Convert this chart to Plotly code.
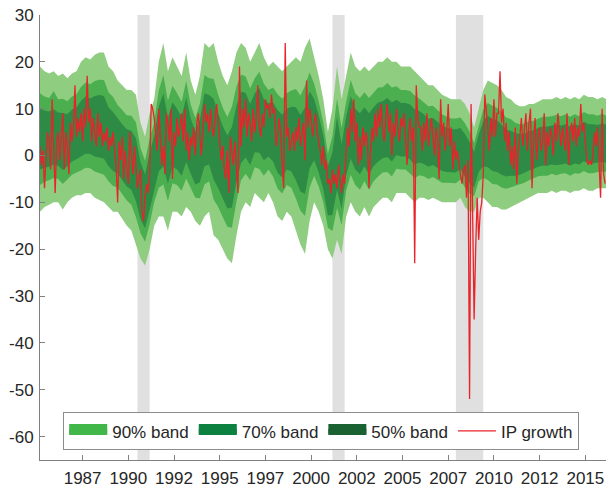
import plotly.graph_objects as go

# ---------------- data ----------------
START_YEAR, START_MONTH = 1985, 3   # first monthly observation: March 1985

# monthly IP growth (annualised %, Mar 1985 .. Feb 2016), one row per year
ip_growth = [
    2, -2, 1, -7, 0, 5, 3, -3, 12, 1,                      # 1985 (Mar-Dec)
    -8, 3, 5, -1, 4, 9, -3, 5, 2, -4, 7, 3,                # 1986
    6, 15, 4, 8, 5, 9, 3, 10, 6, 17, 7, 10,                # 1987
    3, 8, 5, 2, 9, 4, 7, 2, 5, 3, 6, 1,                    # 1988
    4, 2, 5, 1, -2, -10, 3, -1, 4, -5, 1, -3,              # 1989
    -6, 5, 1, -4, 2, -2, -7, -5, -3, -12, -14, -9,         # 1990
    -6, -8, -4, 11, 10, 8, 5, 1, 10, 3, -2, 2,             # 1991
    -4, 9, 7, 3, 10, -5, 5, 2, 8, 4, 6, 9,                 # 1992
    3, 10, 1, 5, -1, 4, 2, 6, 0, 7, 9, 4,                  # 1993
    0, 6, 11, 7, 9, 5, 10, 6, 4, 8, 11, 7,                 # 1994
    3, -1, 2, -3, -5, 1, -8, 4, 1, -2, 3, -3,              # 1995
    -8, 19, 2, 10, 6, 12, 4, 9, 7, 3, 10, 5,               # 1996
    8, 15, 6, 4, 9, 6, 12, 10, 11, 8, 13, 9,               # 1997
    10, 2, 4, 8, 5, -2, -7, 24, 4, 6, 1, 3,                # 1998
    5, 1, 6, 3, 8, 2, 5, 7, -1, 16, 6, 10,                 # 1999
    8, 4, 7, 9, 5, 3, 1, -2, 2, -3, -1, -6,                # 2000
    -5, -8, -3, -6, -4, -7, -2, -5, -8, -4, -6, 1,         # 2001
    6, 2, 10, 5, 12, 3, 7, -2, 4, -1, 6, 2,                # 2002
    5, 3, -7, 1, 6, 3, 9, 4, 10, 6, 11, 5,                 # 2003
    3, 8, 11, 5, 9, 0, 7, 4, 10, 6, 3, 8,                  # 2004
    6, 9, 4, -2, 5, 8, 3, 6, -23, 15, 8, 6,                # 2005
    6, 1, 7, 3, 9, 2, 5, 8, 4, 0, 6, 3,                    # 2006
    -5, 12, 4, 7, 1, 5, 11, 2, 6, -3, 3, -1,               # 2007
    1, -2, -4, -6, -3, -2, -9, -1, -52, 11, -15, -35,      # 2008
    -20, -9, -18, -12, -10, -4, 13, 10, 6, 1, 8, 4,        # 2009
    12, 4, 9, 9, 18, 7, 10, 3, 7, 1, 5, -2,                # 2010
    2, -3, 6, -6, 1, 4, 8, 2, 5, 9, 1, 7,                  # 2011
    10, -7, 3, 8, -1, 4, 6, 1, 3, 9, -2, 5,                # 2012
    2, 6, 4, 0, 7, 3, 9, 5, 2, 6, 4, 1,                    # 2013
    9, -2, 5, 7, 3, 8, 2, 6, 4, 11, 5, 7,                  # 2014
    3, -1, -2, -1, -2, 0, 5, 2, 6, -3, -9, 10,             # 2015
    -4, -6,                                                # 2016 (Jan-Feb)
]

# predictive bands, sampled quarterly from March 1985
band_hi90 = [19, 18, 17.5, 18, 17, 17.5, 16.5, 17.5, 18, 20,
             21, 20.5, 21.5, 22, 22, 19, 18, 16, 15, 14,
             14, 13, 7, 4, 9, 12, 20, 24, 18, 21,
             19, 17, 22, 16, 13, 17, 24, 23, 24, 20,
             17, 15, 18, 22, 24, 23, 20, 22, 24, 21,
             19, 20, 19, 18, 19, 20, 21, 20, 23, 25,
             21, 17, 12, 5, 10, 19, 12, 17, 22, 19,
             18, 19, 18, 19, 20, 20, 21, 20, 20, 19,
             19, 19, 18, 17, 16, 15, 15, 14, 13, 12.5,
             12, 12, 12, 11, 9, 6, 10, 14, 16, 15.5,
             15, 14, 12.5, 12, 11, 10.5, 10.5, 11, 11, 11.5,
             12, 12, 12, 12.5, 12, 12.5, 12, 12.5, 12, 13,
             12.5, 12.5, 12, 12.5, 12]
band_lo90 = [-12, -11, -10.5, -10, -10, -11.5, -10, -9, -8.5, -8.5,
             -8, -8, -9, -9.5, -10, -11, -12, -12, -13.5, -15,
             -16, -19, -22, -23.5, -20, -15, -13, -13, -16, -12,
             -12, -13, -11, -12, -14, -15, -13, -12, -17, -18,
             -20, -22, -23, -17, -12, -10, -11, -8, -9, -10,
             -8, -10, -13, -14, -12, -13, -16, -19, -21, -14,
             -10, -12, -15, -20, -22, -18, -21, -13, -10, -12,
             -13, -11, -13, -11, -10, -9, -9, -10, -8, -8,
             -8, -9, -10, -9, -9, -9.5, -9, -9.5, -10, -10,
             -10, -10, -9, -11, -12, -12, -9, -9, -10, -11,
             -11, -11.5, -11.5, -11, -10.5, -10, -9.5, -9, -8.5, -8,
             -8, -8, -7.5, -8, -7.5, -7.5, -8, -7.5, -7.5, -7,
             -7.5, -7.5, -7, -7, -7]
band_hi70 = [13.3, 12.6, 12.3, 13.8, 12.0, 12.1, 11.6, 12.6, 13.1, 14.7,
             15.6, 15.2, 15.9, 16.2, 16.1, 13.5, 12.5, 10.8, 9.7, 8.6,
             8.5, 7.1, 1.6, -1.1, 3.6, 7.0, 13.9, 17.2, 11.7, 14.9,
             13.3, 11.5, 15.9, 10.8, 8.0, 11.1, 17.2, 16.5, 16.4, 13.0,
             10.2, 8.2, 10.4, 14.8, 17.3, 16.9, 14.3, 16.5, 17.9, 15.3,
             14.0, 14.5, 13.1, 12.1, 13.3, 13.9, 14.2, 12.8, 14.9, 17.8,
             15.3, 11.6, 7.0, 0.4, 4.1, 12.2, 5.9, 11.5, 16.1, 13.3,
             12.3, 13.5, 12.3, 13.5, 14.5, 14.6, 15.5, 14.5, 14.8, 14.0,
             14.0, 13.8, 12.8, 12.2, 11.4, 10.5, 10.6, 9.7, 8.8, 8.3,
             7.9, 7.9, 8.1, 6.9, 5.1, 2.7, 6.5, 9.8, 11.2, 10.6,
             10.2, 9.3, 8.1, 7.8, 7.0, 6.7, 6.8, 7.3, 7.4, 7.9,
             8.3, 8.3, 8.4, 8.7, 8.4, 8.8, 8.3, 8.8, 8.4, 9.3,
             8.8, 8.8, 8.5, 8.9, 8.5]
band_lo70 = [-6.3, -5.6, -5.3, -4.8, -5.0, -6.1, -5.1, -4.1, -3.6, -3.2,
             -2.6, -2.7, -3.4, -3.7, -4.1, -5.5, -6.5, -6.8, -8.2, -9.6,
             -10.5, -13.1, -16.6, -18.4, -14.6, -10.0, -6.9, -6.2, -9.7, -5.9,
             -6.3, -7.5, -4.9, -6.8, -9.0, -9.1, -6.2, -5.5, -9.4, -11.0,
             -13.2, -15.2, -15.4, -9.8, -5.3, -3.9, -5.3, -2.5, -2.9, -4.3,
             -3.0, -4.5, -7.1, -8.1, -6.3, -6.9, -9.2, -11.8, -12.9, -6.8,
             -4.3, -6.6, -10.0, -15.4, -16.1, -11.2, -14.9, -7.5, -4.1, -6.3,
             -7.3, -5.5, -7.3, -5.5, -4.5, -3.6, -3.5, -4.5, -2.8, -3.0,
             -3.0, -3.8, -4.8, -4.2, -4.4, -5.0, -4.6, -5.2, -5.8, -5.8,
             -5.9, -5.9, -5.1, -6.9, -8.1, -8.7, -5.5, -4.8, -5.2, -6.1,
             -6.2, -6.8, -7.1, -6.8, -6.5, -6.2, -5.8, -5.3, -4.9, -4.4,
             -4.3, -4.3, -3.9, -4.2, -3.9, -3.8, -4.3, -3.8, -3.9, -3.3,
             -3.8, -3.8, -3.5, -3.4, -3.5]
band_hi50 = [10.0, 9.6, 9.4, 9.9, 9.2, 9.1, 8.8, 9.8, 10.3, 11.7,
             12.6, 12.2, 12.7, 12.9, 12.7, 10.3, 9.3, 7.9, 6.7, 5.6,
             5.3, 3.7, -1.4, -4.0, 0.6, 4.2, 10.4, 13.3, 8.1, 11.4,
             10.0, 8.3, 12.4, 7.9, 5.2, 7.7, 13.3, 12.9, 12.1, 9.0,
             6.3, 4.3, 6.1, 10.7, 13.6, 13.4, 11.0, 13.3, 14.4, 12.0,
             11.2, 11.3, 9.7, 8.7, 10.0, 10.4, 10.3, 8.7, 10.2, 13.7,
             12.0, 8.6, 4.2, -2.3, 0.7, 8.3, 2.4, 8.3, 12.7, 10.0,
             9.0, 10.3, 9.0, 10.3, 11.3, 11.6, 12.3, 11.3, 11.9, 11.2,
             11.2, 10.9, 9.9, 9.5, 8.8, 7.9, 8.0, 7.2, 6.3, 6.0,
             5.6, 5.6, 5.9, 4.6, 2.9, 0.8, 4.5, 7.3, 8.5, 7.8,
             7.5, 6.6, 5.5, 5.3, 4.8, 4.6, 4.7, 5.2, 5.4, 5.9,
             6.2, 6.2, 6.4, 6.6, 6.4, 6.7, 6.2, 6.7, 6.4, 7.2,
             6.7, 6.7, 6.5, 6.9, 6.5]
band_lo50 = [-3.0, -2.6, -2.4, -1.9, -2.2, -3.1, -2.3, -1.3, -0.8, -0.2,
             0.4, 0.3, -0.2, -0.4, -0.7, -2.3, -3.3, -3.9, -5.2, -6.6,
             -7.3, -9.7, -13.6, -15.5, -11.6, -7.2, -3.4, -2.3, -6.1, -2.4,
             -3.0, -4.3, -1.4, -3.9, -6.2, -5.7, -2.3, -1.9, -5.1, -7.0,
             -9.3, -11.3, -11.1, -5.7, -1.6, -0.4, -2.0, 0.7, 0.6, -1.0,
             -0.2, -1.3, -3.7, -4.7, -3.0, -3.4, -5.3, -7.7, -8.2, -2.7,
             -1.0, -3.6, -7.2, -12.8, -12.7, -7.3, -11.4, -4.3, -0.7, -3.0,
             -4.0, -2.3, -4.0, -2.3, -1.3, -0.6, -0.3, -1.3, 0.1, -0.2,
             -0.2, -0.9, -1.9, -1.5, -1.8, -2.4, -2.0, -2.7, -3.3, -3.5,
             -3.6, -3.6, -2.9, -4.6, -5.9, -6.8, -3.5, -2.3, -2.5, -3.3,
             -3.5, -4.1, -4.5, -4.3, -4.3, -4.1, -3.7, -3.2, -2.9, -2.4,
             -2.2, -2.2, -1.9, -2.1, -1.9, -1.7, -2.2, -1.7, -1.9, -1.2,
             -1.7, -1.7, -1.5, -1.4, -1.5]

# NBER recessions (decimal years)
recession_start = [1990.5, 2001.167, 2007.917]
recession_end = [1991.167, 2001.833, 2009.417]

x_tick_vals = [1987.5, 1990, 1992.5, 1995, 1997.5, 2000, 2002.5, 2005, 2007.5, 2010, 2012.5, 2015]
x_tick_text = ["1987", "1990", "1992", "1995", "1997", "2000", "2002", "2005", "2007", "2010", "2012", "2015"]
y_tick_vals = [-60, -50, -40, -30, -20, -10, 0, 10, 20, 30]
y_tick_text = ["-60", "-50", "-40", "-30", "-20", "-10", "0", "10", "20", "30"]

# ---------------- build ----------------
t_month = [START_YEAR + (START_MONTH - 1 + k) / 12 for k in range(len(ip_growth))]
t_band = [START_YEAR + (START_MONTH - 1) / 12 + 0.25 * k for k in range(len(band_hi90))]

bands = [
    ("90% band", band_hi90, band_lo90, "#8fcd80", "#41b649"),
    ("70% band", band_hi70, band_lo70, "#4caf4f", "#0c8140"),
    ("50% band", band_hi50, band_lo50, "#2e8b46", "#1b6232"),
]

FONT = "Liberation Sans, Arial, Helvetica, sans-serif"
fig = go.Figure()

for name, hi, lo, plot_col, _ in bands:
    fig.add_trace(go.Scatter(x=t_band, y=hi, mode="lines", line=dict(width=0),
                             showlegend=False, hoverinfo="skip"))
    fig.add_trace(go.Scatter(x=t_band, y=lo, mode="lines", line=dict(width=0),
                             fill="tonexty", fillcolor=plot_col,
                             showlegend=False, hoverinfo="skip"))

fig.add_trace(go.Scatter(x=t_month, y=ip_growth, mode="lines",
                         line=dict(color="#e8232a", width=1.3), showlegend=False))

# legend entries
for name, hi, lo, _, leg_col in bands:
    fig.add_trace(go.Scatter(x=[None], y=[None], mode="lines", name=name,
                             line=dict(color=leg_col, width=10),
                             fill="toself", fillcolor=leg_col))
fig.add_trace(go.Scatter(x=[None], y=[None], mode="lines", name="IP growth",
                         line=dict(color="#e8232a", width=1.3)))

for s, e in zip(recession_start, recession_end):
    fig.add_shape(type="rect", xref="x", yref="y", x0=s, x1=e, y0=-65, y1=30,
                  fillcolor="#e0e0e0", line=dict(width=0), layer="below")

axis_common = dict(showline=True, linecolor="#808080", linewidth=1,
                   ticks="inside", ticklen=5, tickcolor="#808080",
                   showgrid=False, zeroline=False,
                   tickfont=dict(family=FONT, size=17, color="#262626"))

fig.update_layout(
    width=606, height=493,
    margin=dict(l=40, r=0, t=15, b=33),
    paper_bgcolor="white", plot_bgcolor="white",
    font=dict(family=FONT, size=17, color="#262626"),
    xaxis=dict(range=[1985.17, 2016.13], tickmode="array",
               tickvals=x_tick_vals, ticktext=x_tick_text,
               ticklabelstandoff=3, **axis_common),
    yaxis=dict(range=[-65, 30], tickmode="array", tickvals=y_tick_vals,
               ticktext=y_tick_text, ticklabelstandoff=2, **axis_common),
    legend=dict(orientation="h", x=0.041, y=0.107, xanchor="left", yanchor="top",
                traceorder="normal",
                bgcolor="white", bordercolor="#8c8c8c", borderwidth=1,
                font=dict(family=FONT, size=17, color="#262626"),
                itemwidth=38, tracegroupgap=0),
    showlegend=True,
)

fig.write_html("out.html", config={"displayModeBar": False},
               post_script="document.body.style.margin='0px';")
